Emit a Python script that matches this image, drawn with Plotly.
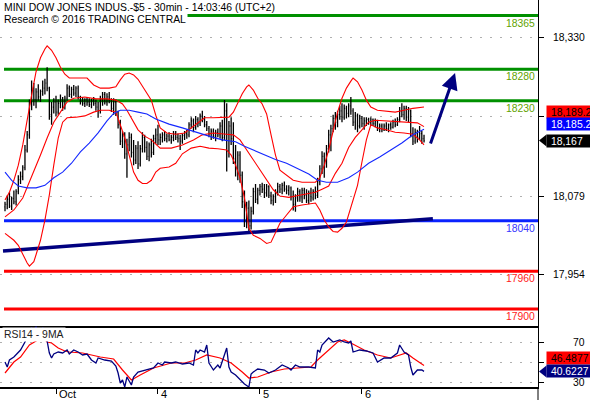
import plotly.graph_objects as go
from plotly.subplots import make_subplots

# ---------------- data ----------------
bar_index = list(range(190))

opens = [18062,18066,18074,18063,18075,18070,18086,18105,18110,18124,
         18152,18176,18225,18250,18232,18244,18236,18245,18250,18258,
         18250,18208,18220,18228,18212,18226,18232,18222,18234,18250,
         18240,18248,18242,18250,18236,18230,18226,18232,18228,18224,
         18230,18226,18220,18214,18232,18240,18228,18236,18232,18218,
         18228,18212,18192,18166,18174,18146,18160,18172,18148,18136,
         18155,18130,18154,18172,18156,18142,18160,18148,18170,18176,
         18168,18172,18176,18170,18174,18168,18172,18178,18172,18170,
         18166,18175,18178,18176,18192,18198,18188,18200,18194,18206,
         18200,18192,18186,18178,18182,18174,18180,18176,18190,18172,
         18214,18150,18190,18170,18138,18122,18144,18112,18070,18040,
         18060,18032,18055,18086,18074,18088,18094,18090,18084,18094,
         18080,18072,18078,18086,18094,18090,18096,18090,18088,18092,
         18078,18066,18076,18086,18076,18088,18080,18072,18084,18076,
         18086,18080,18102,18122,18142,18130,18154,18176,18186,18202,
         18196,18208,18214,18204,18218,18210,18222,18214,18196,18206,
         18190,18202,18194,18198,18200,18196,18200,18194,18198,18186,
         18190,18184,18190,18186,18192,18188,18196,18192,18200,18214,
         18208,18218,18204,18214,18178,18166,18180,18172,18178,18170]

highs = [18070,18080,18085,18078,18088,18090,18112,18118,18128,18160,
         18182,18232,18262,18258,18250,18256,18248,18262,18265,18283,
         18252,18228,18234,18238,18232,18240,18236,18238,18256,18254,
         18252,18255,18253,18254,18238,18236,18234,18236,18234,18233,
         18236,18232,18228,18238,18244,18244,18242,18244,18234,18234,
         18232,18214,18200,18182,18180,18170,18180,18178,18168,18160,
         18166,18160,18180,18176,18166,18164,18170,18176,18186,18192,
         18178,18180,18182,18178,18180,18176,18182,18182,18178,18176,
         18178,18182,18184,18196,18204,18202,18206,18204,18210,18214,
         18206,18198,18190,18186,18186,18184,18186,18196,18200,18231,
         18226,18198,18204,18196,18160,18150,18150,18118,18088,18070,
         18072,18062,18092,18098,18092,18098,18100,18098,18098,18096,
         18086,18082,18090,18100,18098,18100,18102,18096,18096,18094,
         18088,18082,18092,18090,18092,18092,18090,18088,18092,18090,
         18094,18108,18128,18150,18148,18160,18184,18192,18208,18212,
         18214,18222,18226,18224,18222,18226,18236,18218,18212,18210,
         18208,18206,18204,18204,18203,18204,18202,18202,18200,18194,
         18194,18194,18196,18194,18196,18200,18202,18204,18220,18226,
         18222,18222,18220,18216,18188,18186,18184,18190,18182,18176]

lows = [18055,18058,18060,18057,18066,18064,18082,18098,18104,18120,
        18148,18170,18215,18222,18218,18230,18228,18238,18240,18245,
        18200,18192,18210,18205,18208,18218,18214,18216,18230,18236,
        18234,18238,18236,18232,18224,18222,18220,18222,18220,18218,
        18222,18214,18203,18210,18222,18224,18222,18226,18212,18208,
        18206,18186,18160,18155,18138,18108,18150,18140,18128,18130,
        18122,18126,18148,18148,18136,18134,18140,18144,18162,18160,
        18160,18164,18166,18164,18166,18162,18166,18168,18164,18152,
        18162,18168,18170,18172,18186,18180,18184,18188,18190,18196,
        18188,18182,18172,18168,18170,18166,18172,18170,18166,18168,
        18118,18140,18160,18130,18110,18104,18100,18060,18030,18028,
        18022,18026,18050,18068,18066,18080,18084,18076,18078,18076,
        18066,18064,18068,18080,18084,18082,18086,18082,18080,18072,
        18056,18054,18070,18070,18068,18074,18068,18066,18070,18072,
        18074,18076,18096,18114,18108,18124,18148,18150,18180,18184,
        18188,18200,18196,18200,18202,18204,18208,18190,18184,18180,
        18186,18188,18184,18190,18192,18190,18190,18188,18182,18180,
        18180,18182,18182,18180,18184,18186,18188,18190,18196,18204,
        18200,18198,18196,18172,18160,18162,18164,18168,18162,18164]

closes = [18066,18074,18063,18075,18070,18086,18105,18110,18124,18152,
          18176,18225,18250,18232,18244,18236,18245,18250,18258,18250,
          18208,18220,18228,18212,18226,18232,18222,18234,18250,18240,
          18248,18242,18250,18236,18230,18226,18232,18228,18224,18230,
          18226,18220,18214,18232,18240,18228,18236,18232,18218,18228,
          18212,18192,18166,18174,18146,18160,18172,18148,18136,18155,
          18130,18154,18172,18156,18142,18160,18148,18170,18176,18168,
          18172,18176,18170,18174,18168,18172,18178,18172,18170,18166,
          18175,18178,18176,18192,18198,18188,18200,18194,18206,18200,
          18192,18186,18178,18182,18174,18180,18176,18190,18172,18214,
          18150,18190,18170,18138,18122,18144,18112,18070,18040,18060,
          18032,18055,18086,18074,18088,18094,18090,18084,18094,18080,
          18072,18078,18086,18094,18090,18096,18090,18088,18092,18078,
          18066,18076,18086,18076,18088,18080,18072,18084,18076,18086,
          18080,18102,18122,18142,18130,18154,18176,18186,18202,18196,
          18208,18214,18204,18218,18210,18222,18214,18196,18206,18190,
          18202,18194,18198,18200,18196,18200,18194,18198,18186,18190,
          18184,18190,18186,18192,18188,18196,18192,18200,18214,18208,
          18218,18204,18214,18178,18166,18180,18172,18178,18170,18167]

bb_upper_idx = [0,2,4,6,8,10,12,14,16,18,19,21,23,25,27,29,33,37,40,43,47,50,52,54,56,
                58,60,62,64,66,68,70,73,77,81,84,87,90,94,98,101,103,105,107,109,110,
                112,114,116,118,120,122,124,127,130,134,140,142,144,146,148,150,152,
                154,156,157,159,161,163,165,168,172,176,180,184,189]
bb_upper = [18073,18085,18104,18128,18160,18203,18239,18276,18298,18312,18317,18310,18298,
            18283,18272,18266,18266,18266,18255,18250,18250,18252,18263,18272,18274,18271,
            18264,18253,18244,18231,18207,18187,18179,18177,18179,18187,18196,18203,18203,
            18203,18204,18212,18226,18241,18252,18255,18247,18234,18225,18209,18176,18144,
            18120,18112,18104,18101,18101,18108,18128,18152,18184,18212,18234,18250,18261,
            18266,18260,18247,18231,18220,18215,18214,18212,18215,18218,18220]

bb_lower_idx = [0,2,4,6,8,10,11,12,13,14,16,18,20,22,24,26,28,32,36,40,43,47,50,52,54,
                56,58,60,62,64,66,68,70,74,77,80,84,88,92,96,100,102,104,106,108,110,
                112,115,118,120,122,124,127,130,134,140,142,144,146,148,150,152,154,
                155,157,159,161,163,165,168,172,176,180,184,187,189]
bb_lower = [18020,18014,18009,18001,17986,17973,17968,17971,17975,17986,18009,18041,18081,
            18128,18171,18196,18203,18204,18206,18212,18215,18215,18212,18192,18171,18144,
            18117,18104,18099,18099,18104,18117,18123,18125,18131,18146,18155,18158,18155,
            18154,18152,18144,18128,18108,18076,18028,18017,18012,18004,18006,18022,18036,
            18049,18062,18065,18068,18057,18041,18030,18023,18022,18028,18038,18049,18073,
            18096,18133,18168,18192,18187,18184,18180,18179,18177,18168,18160]

bb_mid_idx = [0,4,8,11,13,16,19,22,25,28,31,36,41,46,50,53,55,57,60,63,66,70,75,80,85,
              89,94,100,103,106,109,112,115,118,121,124,128,134,140,143,146,149,152,155,
              158,161,164,167,172,177,182,186,189]
bb_mid = [18046,18057,18076,18101,18117,18144,18171,18196,18212,18228,18234,18236,18233,
          18233,18231,18225,18215,18203,18184,18174,18168,18155,18155,18160,18168,18176,
          18179,18177,18176,18168,18152,18136,18120,18104,18089,18079,18077,18081,18085,
          18090,18095,18115,18131,18156,18172,18184,18196,18199,18198,18196,18196,18195,
          18189]

ma_idx = [0,3,6,10,14,18,22,26,30,34,38,42,46,49,52,56,60,64,68,74,80,86,92,98,104,108,
          112,117,122,127,132,137,141,145,150,155,159,164,169,174,179,184,189]
ma_vals = [18117,18104,18095,18092,18092,18096,18108,18117,18131,18149,18163,18179,18198,
           18210,18215,18215,18212,18209,18201,18193,18187,18180,18174,18168,18165,18158,
           18152,18145,18137,18131,18123,18114,18104,18101,18101,18108,18117,18131,18141,
           18152,18163,18176,18185]

rsi_idx = [0,1,2,4,7,9,10,11,12,13,14,15,16,17,18,19,20,21,22,24,26,28,29,31,33,35,37,38,
           39,41,42,45,48,50,51,52,53,54,55,57,58,60,64,67,69,71,72,75,77,80,83,85,86,87,
           88,90,91,92,94,96,97,98,99,100,101,102,104,106,108,110,111,112,114,117,119,122,
           125,128,129,131,133,137,140,141,142,143,146,148,151,153,155,156,157,160,163,166,
           168,171,174,177,178,180,182,183,184,186,188,189]
rsi_vals = [50,45,52,55,62,70,76,80,84,82,85,80,82,84,83,72,59,54,58,60,59,62,58,62,60,57,
            58,55,52,49,54,52,51,46,39,29,32,25,35,27,35,40,42,44,49,47,50,49,50,48,49,47,
            62,59,62,60,67,49,42,47,44,50,58,64,45,40,37,32,28,25,38,40,43,42,39,42,47,44,
            42,47,45,45,44,62,60,67,74,70,72,70,69,71,60,62,61,59,50,54,54,59,67,60,57,45,
            37,42,42,40.6227]

rsima_idx = [0,4,7,11,14,17,19,21,24,27,29,35,43,49,53,57,61,67,75,81,86,91,97,102,107,110,
             114,120,126,132,138,141,146,150,153,156,162,168,174,181,184,189]
rsima_vals = [39,50,55,67,71,75,70,69,64,61,60,59,55,53,42,32,37,44,49,49,52,57,54,49,40,34,
              35,40,43,44,45,52,62,70,72,69,62,57,54,59,54,46.4877]

day_ticks = [23, 69, 115, 161]
day_labels = ["Oct", "4", "5", "6"]

level_values = [18365, 18280, 18230, 18040, 17960, 17900]
level_labels = ["18365", "18280", "18230", "18040", "17960", "17900"]

trend_x = [-0.9, 193]
trend_y = [17992, 18043]
arrow_x = [191.7, 203]
arrow_y = [18160, 18274]

price_ticks = [17954, 18079, 18204.5, 18330]
price_tick_labels = ["17,954", "18,079", "", "18,330"]
rsi_ticks = [30, 50, 70]
rsi_tick_labels = ["30", "", "70"]

price_tags = [18189.2, 18185.2, 18167]
price_tag_text = ["18,189.2", "18,185.2", "18,167"]
rsi_tags = [46.4877, 40.6227]
rsi_tag_text = ["46.4877", "40.6227"]

# ---------------- styles ----------------
FONT = "Liberation Sans, Arial, sans-serif"
FS = 10.4
W, H = 590, 400
ML, MR, MT, MB = 0, 52, 0, 13
PW = W - ML - MR          # 538
PH = H - MT - MB          # 387
MAIN_BOTTOM_PX = 326
split = (PH - MAIN_BOTTOM_PX) / PH
X_RANGE = [-2.26, 240.41]
Y_RANGE = [17873.2, 18389.6]
RSI_RANGE = [25, 86]

level_line_colors = ["#009000", "#009000", "#009000", "#0a22ff", "#ff0000", "#ff0000"]
level_text_colors = ["#62a300", "#62a300", "#62a300", "#3535ff", "#ff1a1a", "#ff1a1a"]
price_tag_bg = ["#ff0000", "#0000ff", "#000000"]
price_tag_fg = ["#000000", "#ffffff", "#ffffff"]
price_tag_shift = [14.5, 5, 0]
rsi_tag_bg = ["#ff0000", "#000080"]
rsi_tag_fg = ["#000000", "#ffffff"]
rsi_tag_shift = [8, 0]

fig = make_subplots(rows=2, cols=1, shared_xaxes=True, vertical_spacing=0)

# level lines
for v, c in zip(level_values, level_line_colors):
    fig.add_shape(type="line", xref="x", yref="y", x0=-0.45, x1=X_RANGE[1], y0=v, y1=v,
                  line=dict(color=c, width=3), layer="below")

fig.add_trace(go.Ohlc(x=bar_index, open=opens, high=highs, low=lows, close=closes,
                      increasing=dict(line=dict(color="black", width=1.3)),
                      decreasing=dict(line=dict(color="black", width=1.3)),
                      tickwidth=0.35, showlegend=False, hoverinfo="skip"), row=1, col=1)

fig.add_trace(go.Scatter(x=trend_x, y=trend_y, mode="lines",
                         line=dict(color="#000080", width=3.5), showlegend=False,
                         hoverinfo="skip"), row=1, col=1)

for xs, ys in [(bb_upper_idx, bb_upper), (bb_mid_idx, bb_mid), (bb_lower_idx, bb_lower)]:
    fig.add_trace(go.Scatter(x=xs, y=ys, mode="lines", line=dict(color="#ff0000", width=1.1),
                             showlegend=False, hoverinfo="skip"), row=1, col=1)
fig.add_trace(go.Scatter(x=ma_idx, y=ma_vals, mode="lines", line=dict(color="#1428ff", width=1.1),
                         showlegend=False, hoverinfo="skip"), row=1, col=1)

fig.add_trace(go.Scatter(x=rsima_idx, y=rsima_vals, mode="lines", line=dict(color="#ff0000", width=1.2),
                         showlegend=False, hoverinfo="skip"), row=2, col=1)
fig.add_trace(go.Scatter(x=rsi_idx, y=rsi_vals, mode="lines", line=dict(color="#000080", width=1.3),
                         showlegend=False, hoverinfo="skip"), row=2, col=1)

# axes
fig.update_xaxes(range=X_RANGE, rangeslider_visible=False, showgrid=False, zeroline=False,
                 showline=True, linecolor="black", linewidth=2, fixedrange=True)
fig.update_xaxes(row=1, col=1, ticks="", showticklabels=False)
fig.update_xaxes(row=2, col=1, ticks="outside", ticklen=5, tickcolor="black", tickwidth=1,
                 tickvals=day_ticks, showticklabels=False)
common_y = dict(side="right", showticklabels=False, ticks="outside", ticklen=5, tickcolor="black",
                showline=True, linecolor="black", linewidth=1, showgrid=True, gridcolor="#b0b0b0",
                griddash="2px,8px", gridwidth=1, zeroline=False, fixedrange=True)
fig.update_yaxes(row=1, col=1, range=Y_RANGE, tickvals=price_ticks, domain=[split, 1], **common_y)
fig.update_yaxes(row=2, col=1, range=RSI_RANGE, tickvals=rsi_ticks, domain=[0, split], **common_y)

# extension of right border below the axis
fig.add_shape(type="line", xref="paper", yref="paper", x0=1, x1=1, y0=0, y1=-MB / PH,
              line=dict(color="black", width=1))

# level labels
for v, t, c in zip(level_values, level_labels, level_text_colors):
    fig.add_annotation(xref="x", yref="y", x=X_RANGE[1], y=v, xanchor="right", yanchor="top",
                       xshift=-1, text=t, showarrow=False, font=dict(family=FONT, size=FS, color=c))

# right axis labels
for v, t in zip(price_ticks, price_tick_labels):
    if t:
        fig.add_annotation(xref="paper", yref="y", x=587 / PW, y=v, xanchor="right", yanchor="middle",
                           text=t, showarrow=False, font=dict(family=FONT, size=FS, color="black"))
for v, t in zip(rsi_ticks, rsi_tick_labels):
    if t:
        fig.add_annotation(xref="paper", yref="y2", x=587 / PW, y=v, xanchor="right", yanchor="middle",
                           text=t, showarrow=False, font=dict(family=FONT, size=FS, color="black"))

# day labels
for v, t in zip(day_ticks, day_labels):
    fig.add_annotation(xref="x2", yref="paper", x=v, y=1 / PH, xanchor="left", yanchor="top",
                       xshift=1, text=t, showarrow=False, font=dict(family=FONT, size=FS + 0.6, color="black"))

# price tags
for v, t, bg, fg, sh in zip(price_tags, price_tag_text, price_tag_bg, price_tag_fg, price_tag_shift):
    fig.add_annotation(xref="paper", yref="y", x=546 / PW, y=v, xanchor="left", yanchor="middle",
                       yshift=sh, text="\u00a0" + t, showarrow=False, bgcolor=bg, width=46, height=10,
                       align="left", borderpad=1, font=dict(family=FONT, size=FS, color=fg))
for v, t, bg, fg, sh in zip(rsi_tags, rsi_tag_text, rsi_tag_bg, rsi_tag_fg, rsi_tag_shift):
    fig.add_annotation(xref="paper", yref="y2", x=546 / PW, y=v, xanchor="left", yanchor="middle",
                       yshift=sh, text="\u00a0" + t, showarrow=False, bgcolor=bg, width=46, height=10,
                       align="left", borderpad=1, font=dict(family=FONT, size=FS, color=fg))

# pointers on last-value tags
def pointer(value, yref, half, color):
    xt, xb = 539 / PW, 546.5 / PW
    fig.add_shape(type="path", xref="paper", yref=yref,
                  path=f"M {xt},{value} L {xb},{value + half} L {xb},{value - half} Z",
                  fillcolor=color, line=dict(color=color, width=0))
pointer(price_tags[2], "y", 6 * (Y_RANGE[1] - Y_RANGE[0]) / MAIN_BOTTOM_PX, "#000000")
pointer(rsi_tags[1], "y2", 6 * (RSI_RANGE[1] - RSI_RANGE[0]) / (PH - MAIN_BOTTOM_PX), "#000080")

# arrow
fig.add_annotation(xref="x", yref="y", x=arrow_x[1], y=arrow_y[1], axref="x", ayref="y",
                   ax=arrow_x[0], ay=arrow_y[0], text="", showarrow=True, arrowhead=2,
                   arrowsize=1.1, arrowwidth=3, arrowcolor="#000080", standoff=0, startstandoff=0)

# titles
fig.add_annotation(xref="paper", yref="paper", x=2 / PW, y=1, xanchor="left", yanchor="top",
                   text="MINI DOW JONES INDUS.-$5 - 30min - 14:03:46 (UTC+2)", showarrow=False,
                   font=dict(family=FONT, size=FS, color="black"))
fig.add_annotation(xref="paper", yref="paper", x=2 / PW, y=(PH - 12) / PH, xanchor="left", yanchor="top",
                   text="Research © 2016 TRADING CENTRAL", showarrow=False, bgcolor="white",
                   font=dict(family=FONT, size=FS, color="black"))
fig.add_annotation(xref="paper", yref="paper", x=2 / PW, y=(PH - 327) / PH, xanchor="left", yanchor="top",
                   text="RSI14 - 9MA", showarrow=False, bgcolor="white",
                   font=dict(family=FONT, size=FS, color="#202020"))

fig.update_layout(width=W, height=H, margin=dict(l=ML, r=MR, t=MT, b=MB),
                  paper_bgcolor="white", plot_bgcolor="white", showlegend=False)

fig.write_html("out.html", config={"displayModeBar": False},
               post_script="document.body.style.margin='0';document.body.style.overflow='hidden';")
